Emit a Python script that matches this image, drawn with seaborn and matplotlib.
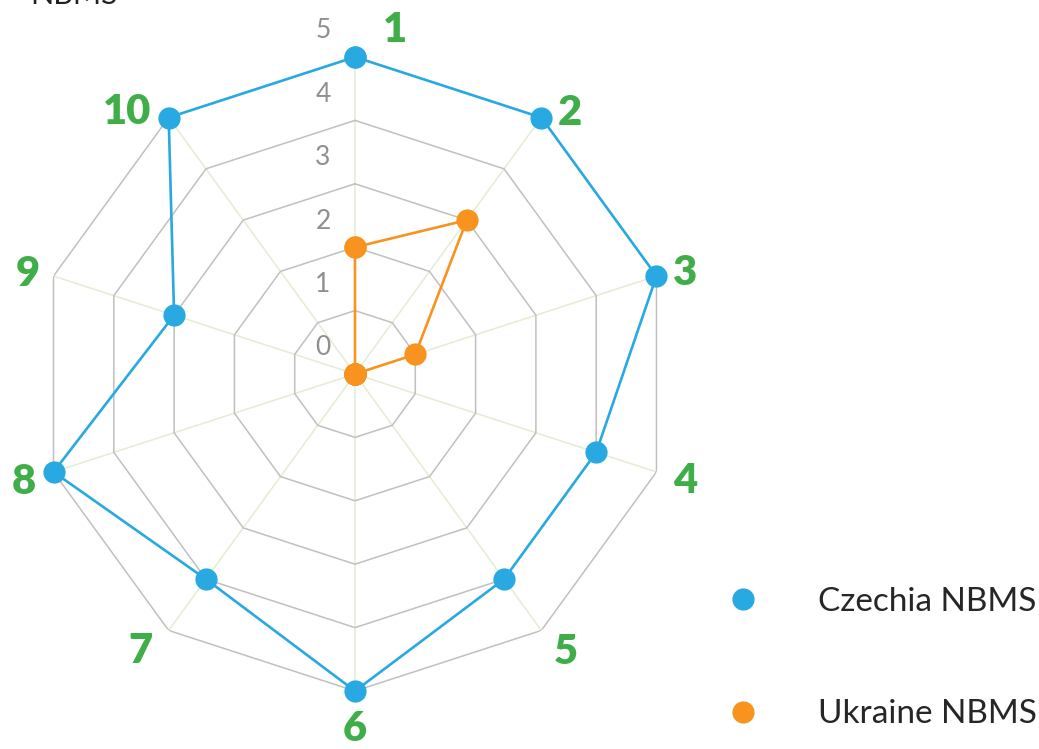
import numpy as np
import pandas as pd
import matplotlib
matplotlib.use('Agg')
import matplotlib.pyplot as plt
import matplotlib.transforms as mtransforms
from matplotlib.lines import Line2D
import seaborn as sns

# --- dados ---
CATEGORIES = ['1', '2', '3', '4', '5', '6', '7', '8', '9', '10']
CZECHIA = [5, 5, 5, 4, 4, 5, 4, 5, 3, 5]
UKRAINE = [2, 3, 1, 0, 0, 0, 0, 0, 0, 0]
SERIES = ['Czechia NBMS', 'Ukraine NBMS']
RING_VALUES = [0, 1, 2, 3, 4, 5]

# --- estilo ---
BLUE = '#29a9e1'
ORANGE = '#f7931e'
GREEN = '#3fae49'
TICK_GRAY = '#8f8f8f'
RING_GRAY = '#c0c0c0'
SPOKE = '#e3edd2'
# angulo (graus) e raio dos rotulos das categorias
LABEL_ANGLES = [6.6, 39.5, 73, 108, 142.8, 180, 217.7, 252, 287, 319]
LABEL_RADIUS = [5.46, 5.33, 5.44, 5.47, 5.5, 5.6, 5.53, 5.5, 5.4, 5.47]

sns.set_theme(style='white')
plt.rcParams['font.family'] = ['Lato', 'DejaVu Sans']

n = len(CATEGORIES)
theta = np.arange(n) * 2 * np.pi / n

# formato longo, fechando o poligono
rows = []
for name, vals in zip(SERIES, [CZECHIA, UKRAINE]):
    for t, v in zip(list(theta) + [2 * np.pi], list(vals) + [vals[0]]):
        rows.append({'serie': name, 'theta': t, 'valor': v})
df = pd.DataFrame(rows)

W, H = 1039, 749
cx, cy, R = 355, 374, 317
fig = plt.figure(figsize=(W / 100, H / 100), dpi=100)
ax = fig.add_axes([(cx - R) / W, (H - cy - R) / H, 2 * R / W, 2 * R / H], projection='polar')
ax.set_theta_zero_location('N')
ax.set_theta_direction(-1)
ax.set_ylim(0, 5)
ax.grid(False)
ax.spines['polar'].set_visible(False)
ax.set_xticks([])
ax.set_yticks([])
ax.patch.set_alpha(0)

# grade poligonal
for t in theta:
    ax.plot([t, t], [0, 5], color=SPOKE, lw=1.1, zorder=1)
for v in RING_VALUES[1:]:
    ax.plot(list(theta) + [theta[0]], [v] * (n + 1), color=RING_GRAY, lw=1.1, zorder=1)

# series
sns.lineplot(data=df, x='theta', y='valor', hue='serie', palette=[BLUE, ORANGE],
             sort=False, estimator=None, marker='o', markersize=16, markeredgewidth=0,
             linewidth=1.9, legend=False, ax=ax, zorder=3, clip_on=False)
ax.set_xlabel('')
ax.set_ylabel('')

# rotulos do eixo radial
off = mtransforms.offset_copy(ax.transData, fig=fig, x=-32, y=26, units='dots')
for v in RING_VALUES:
    ax.text(0, v, str(v), transform=off, ha='center', va='center',
            color=TICK_GRAY, fontsize=19)

# rotulos das categorias
for lab, a, r in zip(CATEGORIES, LABEL_ANGLES, LABEL_RADIUS):
    ax.text(np.deg2rad(a), r, lab, ha='center', va='center', color=GREEN,
            fontsize=30, fontweight='heavy', clip_on=False)

# legenda
handles = [Line2D([0], [0], marker='o', ls='', color=c, markersize=16, markeredgewidth=0)
           for c in [BLUE, ORANGE]]
fig.legend(handles, SERIES, loc='center left', bbox_to_anchor=(726 / W, 1 - 658 / H),
           frameon=False, fontsize=24, handlelength=1.0, handletextpad=1.75,
           labelspacing=2.48, borderpad=0, borderaxespad=0)

# titulo cortado no topo
fig.text(30 / W, 1 - 4 / H, 'NBMS', fontsize=22, color='#222222', va='baseline')

fig.savefig('out.png', dpi=100)
